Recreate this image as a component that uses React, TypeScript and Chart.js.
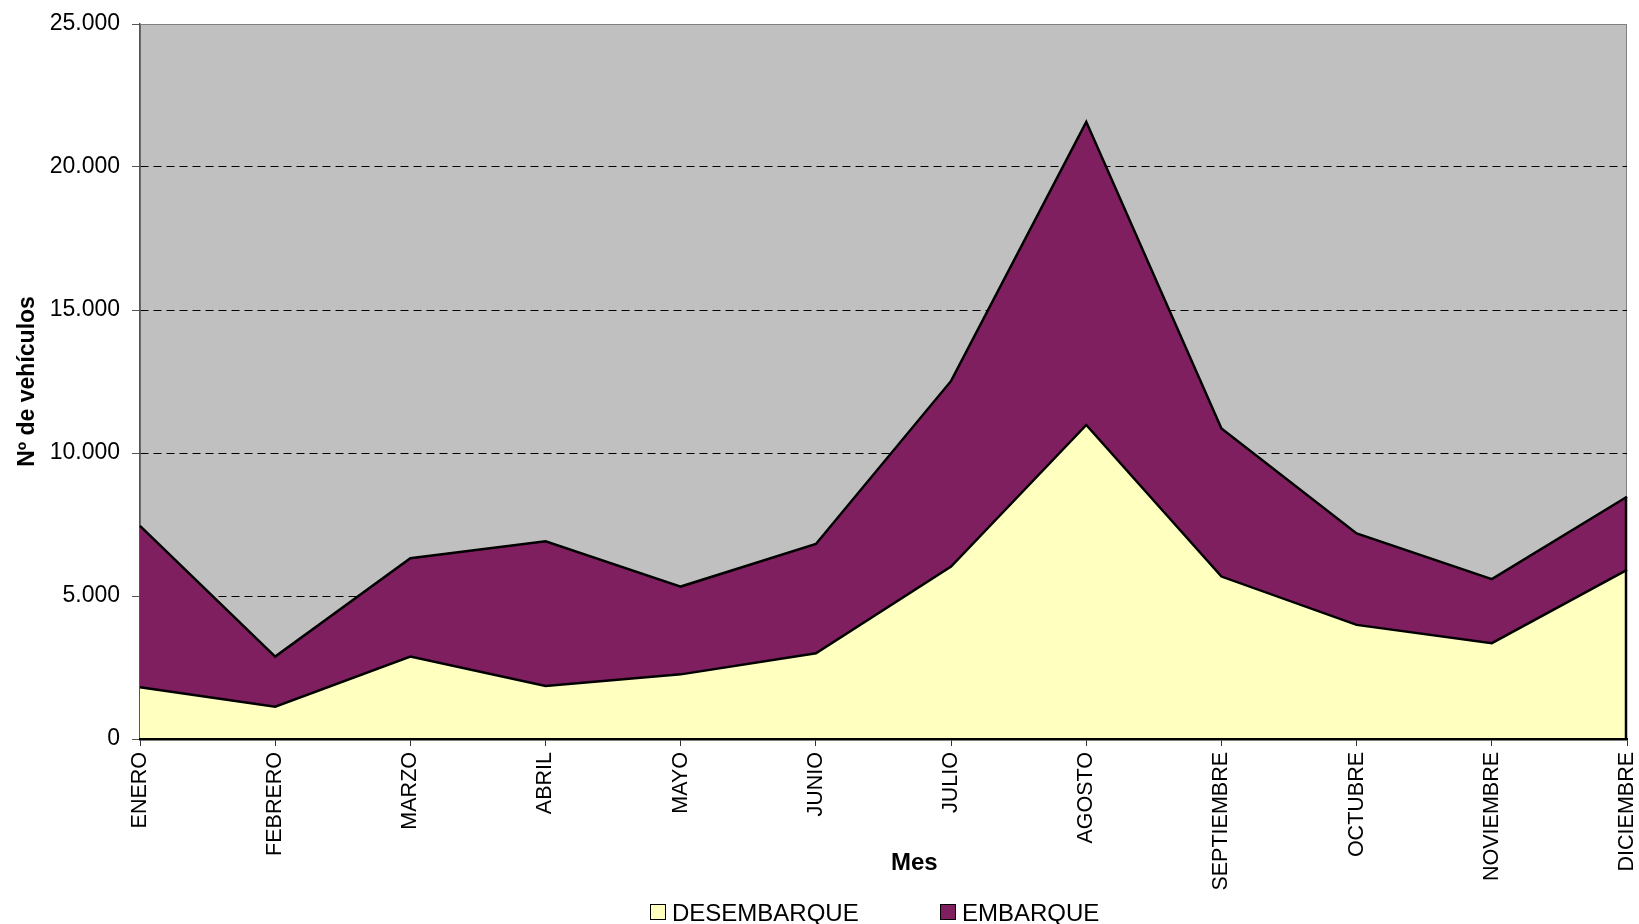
import React, { useEffect, useRef } from "react";
import { Chart, registerables } from "chart.js";

Chart.register(...registerables);

const months = [
  "ENERO", "FEBRERO", "MARZO", "ABRIL", "MAYO", "JUNIO",
  "JULIO", "AGOSTO", "SEPTIEMBRE", "OCTUBRE", "NOVIEMBRE", "DICIEMBRE",
];
const desembarque = [1810, 1130, 2880, 1850, 2260, 3000, 6030, 10980, 5680, 3990, 3350, 5910];
const embarque = [5640, 1750, 3440, 5060, 3070, 3820, 6490, 10600, 5180, 3200, 2240, 2560];
const yTicks = [0, 5000, 10000, 15000, 20000, 25000];

const FONT = "'Liberation Sans', Arial, sans-serif";
const YELLOW = "#FFFFC0";
const PURPLE = "#801F5F";

const fmt = (v: number) => String(v).replace(/\B(?=(\d{3})+(?!\d))/g, ".");

const plotBg = {
  id: "plotBg",
  beforeDraw(chart: any) {
    const { ctx, chartArea: a } = chart;
    ctx.save();
    ctx.fillStyle = "#C0C0C0";
    ctx.fillRect(a.left, a.top, a.right - a.left, a.bottom - a.top);
    ctx.strokeStyle = "#808080";
    ctx.lineWidth = 1;
    ctx.strokeRect(a.left + 0.5, a.top + 0.5, a.right - a.left - 1, a.bottom - a.top);
    ctx.restore();
  },
  afterDatasetsDraw(chart: any) {
    const { ctx } = chart;
    const x = chart.scales.x;
    const y = chart.scales.y;
    const last = months.length - 1;
    const px = x.getPixelForValue(last);
    const top = y.getPixelForValue(desembarque[last] + embarque[last]);
    const bottom = y.getPixelForValue(0);
    ctx.save();
    ctx.strokeStyle = "#000";
    ctx.lineWidth = 2.5;
    ctx.beginPath();
    ctx.moveTo(px - 1, top);
    ctx.lineTo(px - 1, bottom);
    ctx.stroke();
    ctx.restore();
  },
};

export default function App() {
  const ref = useRef<HTMLCanvasElement>(null);
  useEffect(() => {
    const chart = new Chart(ref.current!, {
      type: "line",
      data: {
        labels: months,
        datasets: [
          {
            label: "DESEMBARQUE",
            data: desembarque,
            backgroundColor: YELLOW,
            borderColor: "#000",
            borderWidth: 2.5,
            fill: "origin",
            pointRadius: 0,
            tension: 0,
          },
          {
            label: "EMBARQUE",
            data: embarque,
            backgroundColor: PURPLE,
            borderColor: "#000",
            borderWidth: 2.5,
            fill: "-1",
            pointRadius: 0,
            tension: 0,
          },
        ],
      },
      plugins: [plotBg],
      options: {
        animation: false,
        responsive: false,
        devicePixelRatio: 1,
        layout: { padding: { top: 24, right: 12, left: 0, bottom: 0 } },
        plugins: { legend: { display: false }, tooltip: { enabled: false } },
        scales: {
          x: {
            type: "category",
            offset: false,
            border: { color: "#000", width: 2.5, z: 1 },
            grid: {
              drawOnChartArea: false,
              drawTicks: true,
              tickLength: 7,
              color: "#333",
            },
            ticks: {
              autoSkip: false,
              maxRotation: 90,
              minRotation: 90,
              padding: 6,
              color: "#000",
              font: { family: FONT, size: 21.5 },
            },
            afterFit(scale: any) {
              scale.height = 185;
              scale.paddingLeft = 0;
              scale.paddingRight = 0;
            },
          },
          y: {
            stacked: true,
            min: 0,
            max: 25000,
            afterBuildTicks(scale: any) {
              scale.ticks = yTicks.map((v) => ({ value: v }));
            },
            grid: {
              color: (c: any) =>
                c.tick && (c.tick.value === 0 || c.tick.value === 25000) ? "rgba(0,0,0,0)" : "#000",
              tickColor: "#555",
              tickLength: 8,
              lineWidth: 1,
              tickBorderDash: [],
            },
            border: { color: "#555", width: 1.5, dash: [8, 5] } as any,
            ticks: {
              padding: 12,
              color: "#000",
              font: { family: FONT, size: 23 },
              callback: (v: any) => fmt(Number(v)),
            },
            title: {
              display: true,
              text: "Nº de vehículos",
              color: "#000",
              font: { family: FONT, size: 23, weight: "bold" },
              padding: { top: 14, bottom: 0 },
            },
            afterFit(scale: any) {
              scale.width = 140;
              scale.paddingTop = 0;
              scale.paddingBottom = 0;
            },
          },
        },
      } as any,
    });
    return () => chart.destroy();
  }, []);

  const legendText: React.CSSProperties = {
    position: "absolute",
    fontFamily: FONT,
    fontSize: 24,
    lineHeight: "24px",
    color: "#000",
    whiteSpace: "nowrap",
  };
  const box = (bg: string): React.CSSProperties => ({
    position: "absolute",
    width: 14,
    height: 14,
    border: "1.5px solid #000",
    background: bg,
    top: 904,
  });

  return (
    <div style={{ position: "fixed", left: 0, top: 0, width: 1639, height: 924, background: "#fff", overflow: "hidden" }}>
      <canvas ref={ref} width={1639} height={924} style={{ display: "block" }} />
      <div style={{ ...legendText, fontWeight: "bold", left: 891, top: 850 }}>Mes</div>
      <div style={{ ...box(YELLOW), left: 650 }} />
      <div style={{ ...legendText, left: 672, top: 901 }}>DESEMBARQUE</div>
      <div style={{ ...box(PURPLE), left: 940 }} />
      <div style={{ ...legendText, left: 962, top: 901 }}>EMBARQUE</div>
    </div>
  );
}
